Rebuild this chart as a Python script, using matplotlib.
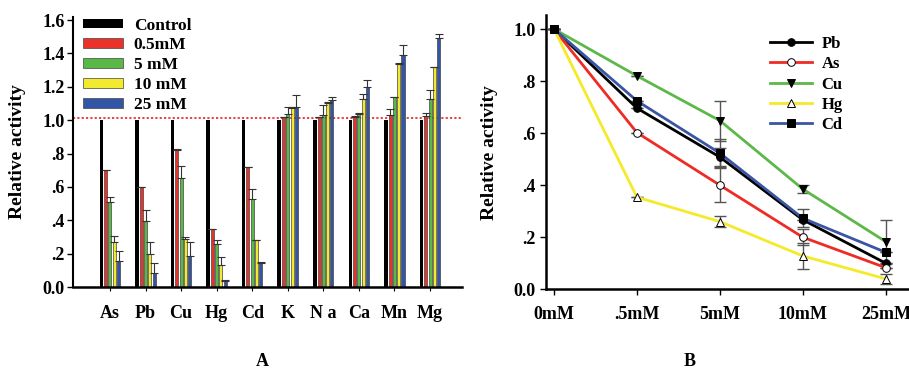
import numpy as np
import matplotlib
matplotlib.use("Agg")
import matplotlib.pyplot as plt

plt.rcParams['font.family'] = ['Liberation Serif', 'DejaVu Serif']
plt.rcParams['font.weight'] = 'bold'

# ---- panel A data ----
metals = ["As", "Pb", "Cu", "Hg", "Cd", "K", "N a", "Ca", "Mn", "Mg"]
conc_labels = ["Control", "0.5mM", "5 mM", "10 mM", "25 mM"]
control = [1.0, 1.0, 1.0, 1.0, 1.0, 1.0, 1.0, 1.0, 1.0, 1.0]
c05 = [0.70, 0.60, 0.82, 0.35, 0.72, 1.02, 1.017, 1.02, 1.03, 1.026]
c5 = [0.507, 0.397, 0.651, 0.258, 0.527, 1.035, 1.033, 1.035, 1.14, 1.126]
c10 = [0.268, 0.198, 0.286, 0.132, 0.28, 1.07, 1.10, 1.126, 1.336, 1.32]
c25 = [0.156, 0.082, 0.186, 0.036, 0.142, 1.08, 1.12, 1.20, 1.39, 1.49]
e05 = [0, 0, 0.008, 0, 0, 0, 0, 0.005, 0.035, 0.014]
e5 = [0.033, 0.063, 0.074, 0.022, 0.058, 0.045, 0.06, 0.008, 0, 0.054]
e10 = [0.04, 0.072, 0.014, 0.048, 0.0, 0.01, 0.01, 0.03, 0.008, 0.0]
e25 = [0.06, 0.062, 0.084, 0.004, 0.008, 0.07, 0.017, 0.04, 0.06, 0.024]
bar_colors = ["black", "#e8322a", "#5ab946", "#f2ea2e", "#3355a5"]

# ---- panel B data ----
doses = ["0mM", ".5mM", "5mM", "10mM", "25mM"]
pb = [1.0, 0.696, 0.508, 0.267, 0.10]
as_ = [1.0, 0.602, 0.40, 0.20, 0.083]
cu = [1.0, 0.82, 0.648, 0.385, 0.183]
hg = [1.0, 0.354, 0.26, 0.128, 0.04]
cd = [1.0, 0.724, 0.523, 0.273, 0.142]
pb_err = [0, 0, 0.035, 0, 0]
as_err = [0, 0, 0.065, 0.03, 0]
cu_err = [0, 0, 0.077, 0.015, 0.085]
hg_err = [0, 0, 0.02, 0.05, 0.02]
cd_err = [0, 0, 0.055, 0.035, 0]

fig = plt.figure(figsize=(9.09, 3.69), dpi=100)

# ================= panel A =================
ax1 = fig.add_axes([0.0803, 0.2222, 0.428, 0.7325])
x = np.arange(len(metals))
step = 0.12
series = [control, c05, c5, c10, c25]
errs = [None, e05, e5, e10, e25]
for i, (vals, err) in enumerate(zip(series, errs)):
    pos = x + (i - 2) * step
    if i == 0:
        ax1.bar(pos, vals, width=0.1, color=bar_colors[0], label=conc_labels[0], zorder=2)
    else:
        ax1.bar(pos, vals, width=0.085, color=bar_colors[i], edgecolor="#444444",
                linewidth=0.5, label=conc_labels[i], zorder=2)
        ax1.errorbar(pos, vals, yerr=[np.zeros(len(vals)), err], fmt="none",
                     ecolor="#333333", elinewidth=0.8, capsize=3, capthick=0.8, zorder=3)

ax1.axhline(1.01, color="#e83030", linestyle=(0, (1.2, 1.2)), linewidth=1.3, zorder=1)
ax1.set_xlim(-1.04, 9.9)
ax1.set_ylim(0, 1.62)
ax1.set_yticks([0, 0.2, 0.4, 0.6, 0.8, 1.0, 1.2, 1.4, 1.6])
ax1.set_yticklabels(["0.0", ".2", ".4", ".6", ".8", "1.0", "1.2", "1.4", "1.6"], fontsize=13)
ax1.set_xticks(x)
ax1.set_xticklabels(metals, fontsize=13)
ax1.tick_params(axis="x", length=3, width=0.8, pad=10)
ax1.tick_params(axis="y", length=4, width=1, pad=2)
ax1.set_ylabel("Relative activity", fontsize=14, fontweight="bold", labelpad=12)
for s in ["top", "right"]:
    ax1.spines[s].set_visible(False)
ax1.spines["left"].set_linewidth(1.5)
ax1.spines["bottom"].set_linewidth(1.8)
ax1.legend(loc="upper left", bbox_to_anchor=(0.0, 1.035), frameon=False, fontsize=12.5,
           handlelength=2.3, handleheight=0.5, labelspacing=0.22, handletextpad=0.6,
           borderaxespad=0.2)
fig.text(0.289, 0.008, "A", ha="center", va="baseline", fontsize=13, fontweight="bold")

# ================= panel B =================
ax2 = fig.add_axes([0.6003, 0.216, 0.3997, 0.7434])
xd = np.arange(len(doses))
lines = [
    ("Pb", pb, pb_err, "black", "o", "black"),
    ("As", as_, as_err, "#ee2b24", "o", "white"),
    ("Cu", cu, cu_err, "#5cb849", "v", "black"),
    ("Hg", hg, hg_err, "#f5ea2a", "^", "white"),
    ("Cd", cd, cd_err, "#3a55a4", "s", "black"),
]
for name, vals, err, col, mk, fc in lines:
    ax2.errorbar(xd, vals, yerr=err, fmt="none", ecolor="#555555", elinewidth=1,
                 capsize=4, capthick=1, zorder=2)
    ax2.plot(xd, vals, color=col, linewidth=2, marker=mk, markersize=5.5,
             markerfacecolor=fc, markeredgecolor="black", markeredgewidth=0.7,
             label=name, zorder=3)
ax2.set_xlim(-0.1, 4.28)
ax2.set_ylim(0, 1.054)
ax2.set_xticks(xd)
ax2.set_xticklabels(doses, fontsize=13)
ax2.set_yticks([0, 0.2, 0.4, 0.6, 0.8, 1.0])
ax2.set_yticklabels(["0.0", ".2", ".4", ".6", ".8", "1.0"], fontsize=13)
ax2.tick_params(axis="x", length=4, width=1, pad=8)
ax2.tick_params(axis="y", length=4, width=1, pad=3)
ax2.set_ylabel("Relative activity", fontsize=14, fontweight="bold", labelpad=11)
for s in ["top", "right"]:
    ax2.spines[s].set_visible(False)
ax2.spines["left"].set_linewidth(1.8)
ax2.spines["bottom"].set_linewidth(1.8)
ax2.legend(loc="upper left", bbox_to_anchor=(0.59, 0.96), frameon=False, fontsize=12,
           handlelength=2.5, labelspacing=0.26, handletextpad=0.6, borderaxespad=0.2)
fig.text(0.759, 0.008, "B", ha="center", va="baseline", fontsize=13, fontweight="bold")

fig.savefig("out.png", dpi=100)
